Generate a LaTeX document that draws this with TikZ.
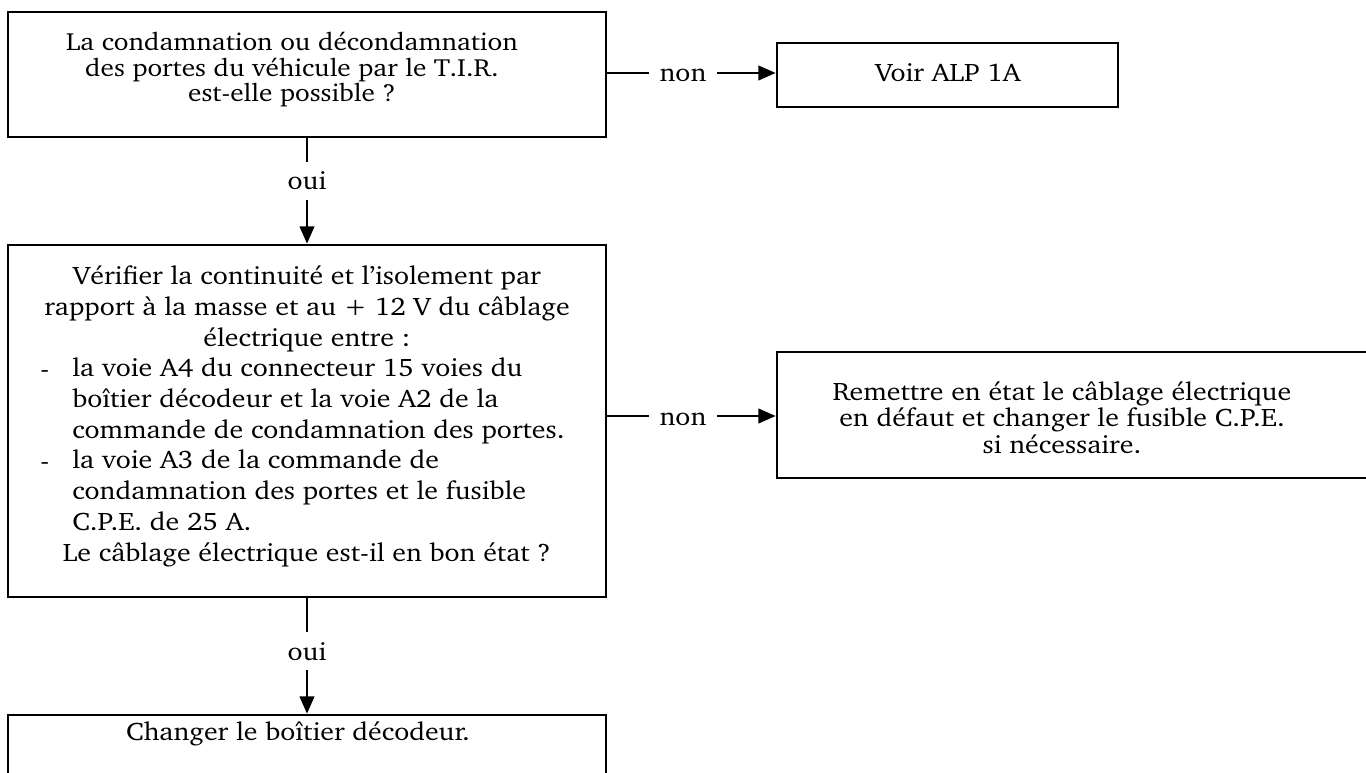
\documentclass[tikz,border=0pt]{standalone}
\usepackage[T1]{fontenc}
\usepackage{charter}
\usepackage{graphicx}
\usetikzlibrary{fit,arrows.meta}
\newcommand\sx[1]{\scalebox{1.1}[1]{#1}}
\newcommand\lines[2]{\sx{\begin{tabular}[b]{@{}#1@{}}#2\end{tabular}}}
\begin{document}
\begin{tikzpicture}[x=0.75pt,y=-0.75pt,
  box/.style={draw, line width=2pt, inner sep=0pt, rectangle},
  txt/.style={inner sep=0pt, font=\fontsize{19}{23}\selectfont},
  tone/.style={inner sep=0pt, font=\fontsize{18.6}{18}\selectfont},
  trem/.style={inner sep=0pt, font=\fontsize{19}{19}\selectfont},
  lbl/.style={inner ysep=7pt, inner xsep=7.5pt, font=\fontsize{19}{22}\selectfont},
  conn/.style={line width=1.5pt},
  arr/.style={line width=1.5pt, -{Triangle[length=13pt,width=11pt]}},
]
\useasboundingbox (0,0) rectangle (1366,773);
\clip (0,0) rectangle (1366,773);
\fill[white] (0,0) rectangle (1366,773);

% boxes
\node[box, fit={(8,12)(606,137)}] (b1) {};
\node[box, fit={(777,43)(1118,107)}] (voir) {};
\node[box, fit={(8,245)(606,597)}] (b2) {};
\node[box, fit={(777,352)(1390,478)}] (rem) {};
\node[box, fit={(8,715)(606,800)}] (b3) {};

% texts (anchor base = baseline of the last line)
\node[tone, anchor=base] (t1) at (292,102) {\lines{c}{La condamnation ou d\'econdamnation\\ des portes du v\'ehicule par le T.I.R.\\ est-elle possible ?}};
\node[txt, anchor=base] (tv) at (948,82) {\sx{Voir ALP 1A}};
\node[txt, anchor=base] (t2a) at (307,346.3) {\lines{c}{V\'erifier la continuit\'e et l'isolement par\\ rapport \`a la masse et au + 12 V du c\^ablage\\ \'electrique entre :}};
\node[txt, anchor=base west] (d1) at (40,377) {\sx{-}};
\node[txt, anchor=base west] (d2) at (40,469) {\sx{-}};
\node[txt, anchor=base west] (t2b) at (72,530.3) {\lines{l}{la voie A4 du connecteur 15 voies du\\ bo\^{\i}tier d\'ecodeur et la voie A2 de la\\ commande de condamnation des portes.\\ la voie A3 de la commande de\\ condamnation des portes et le fusible\\ C.P.E. de 25 A.}};
\node[txt, anchor=base] (t2c) at (307,561) {\sx{Le c\^ablage \'electrique est-il en bon \'etat ?}};
\node[trem, anchor=base] (tr) at (1062,453) {\lines{c}{Remettre en \'etat le c\^ablage \'electrique\\ en d\'efaut et changer le fusible C.P.E.\\ si n\'ecessaire.}};
\node[txt, anchor=base] (t3) at (298,740) {\sx{Changer le bo\^{\i}tier d\'ecodeur.}};

% labels
\node[lbl, anchor=base] (n1) at (683,82) {\sx{non}};
\node[lbl, anchor=base] (n2) at (683,425) {\sx{non}};
\node[lbl, anchor=base] (o1) at (307,190) {\sx{oui}};
\node[lbl, anchor=base] (o2) at (307,660) {\sx{oui}};

\coordinate (y1) at (0,73);
\coordinate (y2) at (0,416);

% connectors
\draw[conn] (b1.east |- y1) -- (n1.west |- y1);
\draw[arr] (n1.east |- y1) -- (voir.west |- y1);
\draw[conn] (b1.south) -- (o1.north);
\draw[arr] (o1.south) -- (b2.north);
\draw[conn] (b2.east |- y2) -- (n2.west |- y2);
\draw[arr] (n2.east |- y2) -- (rem.west |- y2);
\draw[conn] (b2.south) -- (o2.north);
\draw[arr] (o2.south) -- (b3.north);
\end{tikzpicture}
\end{document}
